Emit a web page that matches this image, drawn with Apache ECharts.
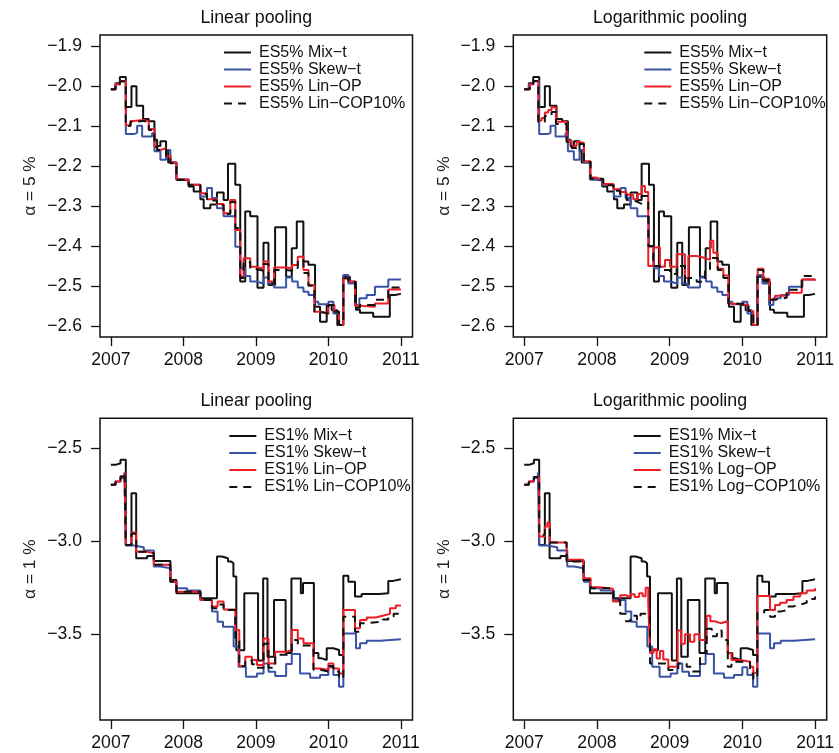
<!DOCTYPE html>
<html>
<head>
<meta charset="utf-8">
<script src="https://cdn.jsdelivr.net/npm/echarts@6/dist/echarts.min.js"></script>
<style>
html,body{margin:0;padding:0;background:#fff;}
#chart{width:839px;height:753px;}
</style>
</head>
<body>
<div id="chart"></div>
<script>
// ---------- tick labels / axes ----------
const X_TICKS = [2007, 2008, 2009, 2010, 2011];
const Y_TICKS_ES5 = [-2.6, -2.5, -2.4, -2.3, -2.2, -2.1, -2.0, -1.9];
const Y_TICKS_ES1 = [-3.5, -3.0, -2.5];
const X_RANGE = [2006.85, 2011.16];
const Y_RANGE_ES5 = [-2.628, -1.872];
const Y_RANGE_ES1 = [-3.96, -2.34];
const TITLES = ['Linear pooling', 'Logarithmic pooling', 'Linear pooling', 'Logarithmic pooling'];
const Y_NAMES = ['\u03b1 = 5 %', '\u03b1 = 5 %', '\u03b1 = 1 %', '\u03b1 = 1 %'];

// ---------- series: [year, value] step breakpoints ----------
const es5MixT = [[2007.0,-2.008],[2007.064,-1.993],[2007.124,-1.977],[2007.206,-2.052],[2007.284,-2.000],[2007.353,-2.049],[2007.445,-2.082],[2007.523,-2.088],[2007.601,-2.134],[2007.638,-2.150],[2007.683,-2.138],[2007.761,-2.163],[2007.79,-2.191],[2007.904,-2.233],[2007.959,-2.236],[2008.073,-2.251],[2008.142,-2.264],[2008.234,-2.283],[2008.28,-2.306],[2008.372,-2.296],[2008.463,-2.266],[2008.555,-2.285],[2008.615,-2.194],[2008.716,-2.247],[2008.784,-2.489],[2008.853,-2.314],[2008.922,-2.326],[2009.022,-2.505],[2009.105,-2.392],[2009.173,-2.498],[2009.265,-2.353],[2009.417,-2.477],[2009.495,-2.406],[2009.564,-2.339],[2009.655,-2.439],[2009.724,-2.447],[2009.816,-2.552],[2009.885,-2.59],[2009.977,-2.548],[2010.045,-2.561],[2010.123,-2.598],[2010.205,-2.477],[2010.297,-2.49],[2010.38,-2.56],[2010.435,-2.567],[2010.618,-2.577],[2010.847,-2.523],[2010.917,-2.52],[2011.0,-2.52]];
const es5SkewT = [[2007.0,-2.008],[2007.064,-1.995],[2007.124,-1.988],[2007.206,-2.12],[2007.317,-2.117],[2007.362,-2.099],[2007.431,-2.126],[2007.569,-2.118],[2007.601,-2.163],[2007.683,-2.184],[2007.761,-2.16],[2007.821,-2.191],[2007.904,-2.234],[2008.073,-2.247],[2008.234,-2.276],[2008.326,-2.255],[2008.394,-2.28],[2008.463,-2.306],[2008.555,-2.326],[2008.716,-2.402],[2008.784,-2.456],[2008.853,-2.475],[2008.922,-2.489],[2009.0,-2.494],[2009.106,-2.479],[2009.174,-2.494],[2009.252,-2.504],[2009.417,-2.479],[2009.5,-2.489],[2009.578,-2.504],[2009.656,-2.515],[2009.725,-2.523],[2009.807,-2.54],[2009.862,-2.546],[2010.0,-2.54],[2010.069,-2.569],[2010.147,-2.598],[2010.206,-2.473],[2010.275,-2.494],[2010.367,-2.548],[2010.427,-2.531],[2010.528,-2.523],[2010.642,-2.502],[2010.826,-2.484],[2011.0,-2.484]];
const es5LinOP = [[2007.0,-2.008],[2007.064,-1.995],[2007.124,-1.988],[2007.206,-2.098],[2007.27,-2.087],[2007.317,-2.085],[2007.445,-2.088],[2007.523,-2.107],[2007.601,-2.151],[2007.638,-2.159],[2007.706,-2.155],[2007.761,-2.175],[2007.821,-2.191],[2007.904,-2.234],[2008.073,-2.247],[2008.234,-2.268],[2008.326,-2.283],[2008.463,-2.295],[2008.555,-2.318],[2008.647,-2.285],[2008.716,-2.36],[2008.784,-2.477],[2008.83,-2.431],[2008.922,-2.452],[2009.0,-2.457],[2009.106,-2.439],[2009.174,-2.489],[2009.252,-2.454],[2009.417,-2.456],[2009.5,-2.448],[2009.578,-2.427],[2009.656,-2.46],[2009.725,-2.498],[2009.807,-2.565],[2009.885,-2.569],[2010.0,-2.548],[2010.083,-2.565],[2010.147,-2.598],[2010.206,-2.481],[2010.275,-2.489],[2010.367,-2.55],[2010.436,-2.552],[2010.642,-2.544],[2010.826,-2.509],[2011.0,-2.51]];
const es5LinCOP = [[2007.0,-2.008],[2007.064,-1.995],[2007.124,-1.988],[2007.206,-2.1],[2007.27,-2.09],[2007.317,-2.087],[2007.445,-2.09],[2007.523,-2.11],[2007.601,-2.152],[2007.638,-2.16],[2007.706,-2.157],[2007.761,-2.178],[2007.821,-2.193],[2007.904,-2.235],[2008.073,-2.248],[2008.234,-2.27],[2008.326,-2.286],[2008.463,-2.298],[2008.555,-2.32],[2008.647,-2.29],[2008.716,-2.355],[2008.784,-2.48],[2008.83,-2.44],[2008.922,-2.458],[2009.0,-2.462],[2009.106,-2.445],[2009.174,-2.494],[2009.252,-2.46],[2009.417,-2.462],[2009.5,-2.455],[2009.578,-2.435],[2009.656,-2.468],[2009.725,-2.5],[2009.807,-2.565],[2009.885,-2.569],[2010.0,-2.548],[2010.083,-2.565],[2010.147,-2.598],[2010.206,-2.481],[2010.275,-2.49],[2010.367,-2.555],[2010.436,-2.548],[2010.642,-2.535],[2010.826,-2.504],[2011.0,-2.505]];
const es5LogOP = [[2007.0,-2.008],[2007.078,-1.995],[2007.124,-1.987],[2007.193,-2.086],[2007.24,-2.08],[2007.284,-2.066],[2007.33,-2.06],[2007.376,-2.053],[2007.436,-2.089],[2007.583,-2.137],[2007.651,-2.15],[2007.72,-2.14],[2007.766,-2.142],[2007.821,-2.188],[2007.913,-2.229],[2007.995,-2.234],[2008.087,-2.245],[2008.225,-2.258],[2008.317,-2.265],[2008.408,-2.272],[2008.5,-2.283],[2008.56,-2.27],[2008.615,-2.25],[2008.66,-2.265],[2008.706,-2.45],[2008.775,-2.404],[2008.867,-2.452],[2008.936,-2.435],[2009.005,-2.452],[2009.096,-2.421],[2009.211,-2.48],[2009.257,-2.425],[2009.372,-2.43],[2009.486,-2.435],[2009.555,-2.387],[2009.601,-2.417],[2009.661,-2.457],[2009.739,-2.474],[2009.807,-2.545],[2009.945,-2.548],[2010.083,-2.563],[2010.151,-2.598],[2010.211,-2.457],[2010.289,-2.482],[2010.372,-2.534],[2010.45,-2.525],[2010.61,-2.517],[2010.817,-2.484],[2011.0,-2.487]];
const es5LogCOP = [[2007.0,-2.008],[2007.078,-1.995],[2007.124,-1.987],[2007.193,-2.09],[2007.284,-2.075],[2007.376,-2.065],[2007.436,-2.095],[2007.583,-2.14],[2007.651,-2.155],[2007.72,-2.145],[2007.821,-2.19],[2007.913,-2.232],[2008.087,-2.248],[2008.225,-2.262],[2008.317,-2.27],[2008.408,-2.285],[2008.5,-2.29],[2008.56,-2.295],[2008.615,-2.275],[2008.706,-2.40],[2008.775,-2.45],[2008.867,-2.46],[2009.005,-2.47],[2009.096,-2.45],[2009.211,-2.495],[2009.257,-2.48],[2009.372,-2.49],[2009.486,-2.46],[2009.555,-2.43],[2009.661,-2.46],[2009.739,-2.48],[2009.807,-2.545],[2010.083,-2.563],[2010.151,-2.598],[2010.211,-2.46],[2010.289,-2.485],[2010.372,-2.535],[2010.45,-2.53],[2010.61,-2.51],[2010.817,-2.475],[2011.0,-2.475]];

const es1MixT = [[2007.0,-2.59],[2007.064,-2.581],[2007.133,-2.563],[2007.206,-3.02],[2007.284,-2.742],[2007.349,-3.091],[2007.5,-3.079],[2007.592,-3.106],[2007.821,-3.208],[2007.904,-3.28],[2008.234,-3.306],[2008.463,-3.082],[2008.532,-3.091],[2008.615,-3.109],[2008.66,-3.118],[2008.69,-3.19],[2008.73,-3.585],[2008.84,-3.28],[2009.03,-3.64],[2009.1,-3.2],[2009.16,-3.62],[2009.25,-3.315],[2009.41,-3.6],[2009.49,-3.2],[2009.62,-3.28],[2009.65,-3.225],[2009.8,-3.6],[2009.862,-3.629],[2009.908,-3.638],[2009.977,-3.575],[2010.069,-3.584],[2010.147,-3.611],[2010.206,-3.186],[2010.275,-3.217],[2010.367,-3.297],[2010.459,-3.283],[2010.7,-3.28],[2010.826,-3.213],[2010.894,-3.204],[2011.0,-3.204]];
const es1SkewT = [[2007.0,-2.697],[2007.064,-2.679],[2007.133,-2.661],[2007.188,-2.631],[2007.206,-3.023],[2007.317,-3.032],[2007.454,-3.05],[2007.592,-3.136],[2007.683,-3.145],[2007.821,-3.217],[2007.904,-3.253],[2008.05,-3.265],[2008.234,-3.315],[2008.394,-3.378],[2008.472,-3.432],[2008.546,-3.459],[2008.693,-3.566],[2008.761,-3.674],[2008.862,-3.728],[2009.014,-3.71],[2009.106,-3.656],[2009.174,-3.701],[2009.266,-3.724],[2009.417,-3.659],[2009.495,-3.606],[2009.609,-3.71],[2009.748,-3.733],[2009.885,-3.719],[2010.0,-3.677],[2010.069,-3.719],[2010.147,-3.781],[2010.206,-3.495],[2010.381,-3.575],[2010.436,-3.548],[2010.528,-3.534],[2010.711,-3.527],[2011.0,-3.527]];
const es1LinOP = [[2007.0,-2.697],[2007.064,-2.679],[2007.133,-2.652],[2007.188,-2.631],[2007.206,-3.02],[2007.284,-2.953],[2007.349,-3.056],[2007.5,-3.065],[2007.592,-3.127],[2007.821,-3.217],[2007.904,-3.271],[2008.234,-3.315],[2008.394,-3.351],[2008.472,-3.324],[2008.555,-3.366],[2008.716,-3.477],[2008.771,-3.67],[2008.853,-3.62],[2008.945,-3.638],[2009.014,-3.665],[2009.106,-3.522],[2009.174,-3.656],[2009.266,-3.593],[2009.427,-3.584],[2009.495,-3.477],[2009.578,-3.522],[2009.656,-3.548],[2009.794,-3.683],[2009.885,-3.692],[2010.0,-3.656],[2010.069,-3.683],[2010.147,-3.71],[2010.206,-3.369],[2010.367,-3.468],[2010.436,-3.423],[2010.528,-3.41],[2010.65,-3.40],[2010.75,-3.39],[2010.85,-3.36],[2010.93,-3.345],[2011.0,-3.342]];
const es1LinCOP = [[2007.0,-2.697],[2007.064,-2.679],[2007.133,-2.652],[2007.188,-2.631],[2007.206,-3.02],[2007.284,-2.96],[2007.349,-3.056],[2007.5,-3.065],[2007.592,-3.127],[2007.821,-3.217],[2007.904,-3.271],[2008.234,-3.315],[2008.394,-3.36],[2008.472,-3.34],[2008.555,-3.37],[2008.716,-3.52],[2008.771,-3.67],[2008.853,-3.64],[2008.945,-3.66],[2009.014,-3.68],[2009.106,-3.55],[2009.174,-3.68],[2009.266,-3.61],[2009.427,-3.6],[2009.495,-3.53],[2009.578,-3.56],[2009.656,-3.56],[2009.794,-3.69],[2009.885,-3.70],[2010.0,-3.67],[2010.069,-3.70],[2010.147,-3.737],[2010.206,-3.405],[2010.367,-3.486],[2010.436,-3.44],[2010.528,-3.432],[2010.75,-3.42],[2010.826,-3.405],[2010.9,-3.39],[2011.0,-3.40]];
const es1LogOP = [[2007.0,-2.697],[2007.064,-2.679],[2007.133,-2.655],[2007.206,-2.975],[2007.284,-2.921],[2007.32,-2.90],[2007.353,-3.007],[2007.583,-3.1],[2007.812,-3.199],[2007.913,-3.247],[2008.04,-3.255],[2008.22,-3.324],[2008.32,-3.29],[2008.4,-3.30],[2008.46,-3.285],[2008.52,-3.30],[2008.58,-3.28],[2008.63,-3.295],[2008.67,-3.25],[2008.706,-3.33],[2008.73,-3.60],[2008.775,-3.58],[2008.821,-3.63],[2008.867,-3.59],[2008.913,-3.635],[2008.982,-3.674],[2009.11,-3.48],[2009.16,-3.55],[2009.21,-3.50],[2009.28,-3.54],[2009.34,-3.50],[2009.41,-3.53],[2009.51,-3.40],[2009.56,-3.43],[2009.62,-3.44],[2009.7,-3.43],[2009.8,-3.602],[2009.85,-3.638],[2009.968,-3.647],[2010.106,-3.674],[2010.151,-3.706],[2010.206,-3.294],[2010.381,-3.369],[2010.45,-3.342],[2010.518,-3.33],[2010.61,-3.315],[2010.702,-3.297],[2010.794,-3.28],[2010.885,-3.265],[2011.0,-3.253]];
const es1LogCOP = [[2007.0,-2.697],[2007.064,-2.679],[2007.133,-2.655],[2007.206,-2.965],[2007.284,-2.93],[2007.353,-3.007],[2007.583,-3.109],[2007.812,-3.208],[2007.913,-3.253],[2008.225,-3.315],[2008.32,-3.39],[2008.4,-3.43],[2008.46,-3.40],[2008.55,-3.42],[2008.6,-3.39],[2008.683,-3.387],[2008.73,-3.656],[2008.982,-3.692],[2009.119,-3.656],[2009.234,-3.674],[2009.303,-3.70],[2009.417,-3.60],[2009.51,-3.47],[2009.58,-3.51],[2009.65,-3.48],[2009.716,-3.53],[2009.8,-3.674],[2009.85,-3.647],[2010.106,-3.71],[2010.151,-3.74],[2010.206,-3.387],[2010.3,-3.37],[2010.381,-3.405],[2010.45,-3.378],[2010.518,-3.37],[2010.61,-3.35],[2010.702,-3.34],[2010.794,-3.33],[2010.885,-3.31],[2011.0,-3.297]];

// ---------- panel definitions ----------
const PANELS = [
  {grid:{left:100, top:35, width:312.5, height:302}, yRange:Y_RANGE_ES5, yTicks:Y_TICKS_ES5, legendLeft:223, legendTop:44,
   lines:[['ES5% Mix\u2212t',es5MixT,'black'],['ES5% Skew\u2212t',es5SkewT,'blue'],['ES5% Lin\u2212OP',es5LinOP,'red'],['ES5% Lin\u2212COP10%',es5LinCOP,'dash']]},
  {grid:{left:513.3, top:35, width:313.4, height:302}, yRange:Y_RANGE_ES5, yTicks:Y_TICKS_ES5, legendLeft:643.3, legendTop:44,
   lines:[['ES5% Mix\u2212t',es5MixT,'black'],['ES5% Skew\u2212t',es5SkewT,'blue'],['ES5% Lin\u2212OP',es5LogOP,'red'],['ES5% Lin\u2212COP10%',es5LogCOP,'dash']]},
  {grid:{left:100, top:418.3, width:312.5, height:301.7}, yRange:Y_RANGE_ES1, yTicks:Y_TICKS_ES1, legendLeft:228.3, legendTop:427.5,
   lines:[['ES1% Mix\u2212t',es1MixT,'black'],['ES1% Skew\u2212t',es1SkewT,'blue'],['ES1% Lin\u2212OP',es1LinOP,'red'],['ES1% Lin\u2212COP10%',es1LinCOP,'dash']]},
  {grid:{left:513.3, top:418.3, width:313.4, height:301.7}, yRange:Y_RANGE_ES1, yTicks:Y_TICKS_ES1, legendLeft:632.7, legendTop:427.5,
   lines:[['ES1% Mix\u2212t',es1MixT,'black'],['ES1% Skew\u2212t',es1SkewT,'blue'],['ES1% Log\u2212OP',es1LogOP,'red'],['ES1% Log\u2212COP10%',es1LogCOP,'dash']]}
];

const FONT = 'Liberation Sans, Arial, Helvetica, sans-serif';
const STYLES = {
  black:{color:'#111111', type:'solid'},
  blue:{color:'#3953a4', type:'solid'},
  red:{color:'#ee1c25', type:'solid'},
  dash:{color:'#111111', type:[8,6]}
};
const fmt = v => (v < 0 ? '\u2212' : '') + Math.abs(v).toFixed(1);

const grid = [], xAxis = [], yAxis = [], series = [], legend = [], title = [];
PANELS.forEach((p, i) => {
  grid.push(Object.assign({show:true, borderColor:'#111', borderWidth:1.5, backgroundColor:'transparent'}, p.grid));
  xAxis.push({
    type:'value', gridIndex:i, min:X_RANGE[0], max:X_RANGE[1],
    axisLine:{show:false}, splitLine:{show:false},
    axisTick:{show:true, length:9, customValues:X_TICKS, lineStyle:{color:'#111', width:1.3}},
    axisLabel:{show:true, customValues:X_TICKS, margin:14, fontSize:17.6, color:'#111', fontFamily:FONT, formatter:v=>String(Math.round(v))}
  });
  yAxis.push({
    type:'value', gridIndex:i, min:p.yRange[0], max:p.yRange[1],
    name:Y_NAMES[i], nameLocation:'middle', nameGap:61,
    nameTextStyle:{fontSize:17.3, color:'#222', fontFamily:FONT},
    axisLine:{show:false}, splitLine:{show:false},
    axisTick:{show:true, length:9, customValues:p.yTicks, lineStyle:{color:'#111', width:1.3}},
    axisLabel:{show:true, customValues:p.yTicks, margin:18, fontSize:17.6, color:'#111', fontFamily:FONT, formatter:fmt}
  });
  p.lines.forEach(l => {
    const st = STYLES[l[2]];
    series.push({
      type:'line', name:l[0], xAxisIndex:i, yAxisIndex:i, data:l[1], step:'end',
      symbol:'none', showSymbol:false, animation:false, silent:true,
      lineStyle:{color:st.color, width:2, type:st.type}, itemStyle:{color:st.color}
    });
  });
  legend.push({
    data:p.lines.map(l=>l[0]), orient:'vertical', left:p.legendLeft, top:p.legendTop,
    padding:0, itemWidth:27, itemHeight:14, itemGap:0, selectedMode:false,
    itemStyle:{opacity:0},
    textStyle:{fontSize:16, lineHeight:17, color:'#111', fontFamily:FONT, padding:[0,0,0,3]}
  });
  const cx = p.grid.left + p.grid.width/2;
  title.push({text:TITLES[i], left:cx, top:(i<2?9:392.5), textAlign:'center', padding:0,
    textStyle:{fontSize:17.8, fontWeight:'normal', color:'#111', fontFamily:FONT}});
});

const chart = echarts.init(document.getElementById('chart'), null, {renderer:'canvas'});
chart.setOption({backgroundColor:'#fff', animation:false, title, grid, xAxis, yAxis, series, legend});
</script>
</body>
</html>
